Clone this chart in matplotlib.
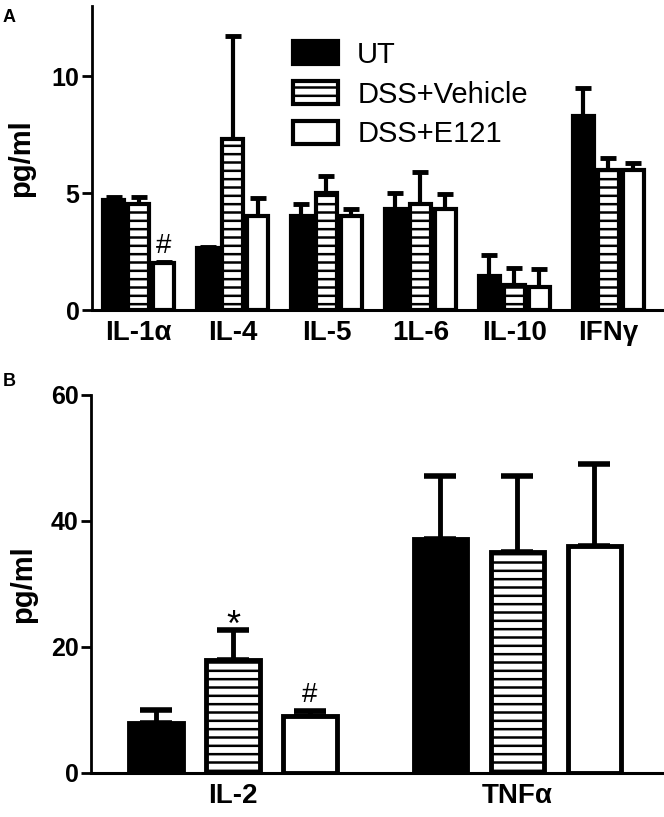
import numpy as np
import matplotlib
matplotlib.use('Agg')
from matplotlib import pyplot as plt

plt.rcParams['font.family'] = ['Liberation Sans', 'DejaVu Sans']
plt.rcParams['hatch.linewidth'] = 1.8
plt.rcParams['hatch.color'] = 'black'

groups = ['UT', 'DSS+Vehicle', 'DSS+E121']
hatches = ['', '--', '']
faces = ['black', 'white', 'white']

# panel A
cyto_a = ['IL-1\u03b1', 'IL-4', 'IL-5', '1L-6', 'IL-10', 'IFN\u03b3']
ut_a = [4.7, 2.65, 4.0, 4.3, 1.45, 8.3]
ut_a_err = [0.15, 0.05, 0.55, 0.7, 0.9, 1.2]
veh_a = [4.55, 7.3, 5.0, 4.55, 1.05, 6.0]
veh_a_err = [0.3, 4.4, 0.75, 1.35, 0.75, 0.5]
e121_a = [2.0, 4.0, 4.0, 4.3, 1.0, 6.0]
e121_a_err = [0.05, 0.8, 0.3, 0.65, 0.75, 0.3]

# panel B
cyto_b = ['IL-2', 'TNF\u03b1']
ut_b = [8.0, 37.2]
ut_b_err = [2.0, 9.9]
veh_b = [18.0, 35.1]
veh_b_err = [4.7, 12.0]
e121_b = [9.0, 36.1]
e121_b_err = [0.9, 13.0]

fig = plt.figure(figsize=(6.64, 8.17), dpi=100)
axA = fig.add_axes([92/664, 1-310/817, 570/664, 304/817])
axB = fig.add_axes([91/664, 1-773/817, 571/664, 378/817])


def draw(ax, cats, vals, errs, offset, width, capsize, lw):
    x = np.arange(len(cats))
    for i, (v, e) in enumerate(zip(vals, errs)):
        xi = x + (i - 1) * offset
        ax.errorbar(xi, v, yerr=[np.zeros(len(v)), e], fmt='none', ecolor='black',
                    elinewidth=lw, capsize=capsize, capthick=lw + 0.5, zorder=1)
        ax.bar(xi, v, width, color=faces[i], edgecolor='black', hatch=hatches[i],
               linewidth=lw, label=groups[i], zorder=2)
    ax.set_xticks(x)
    ax.set_xticklabels(cats, fontsize=20, fontweight='bold')
    ax.tick_params(axis='x', length=0, pad=7)
    ax.tick_params(axis='y', length=7, width=2, labelsize=18, pad=2)
    for lab in ax.get_yticklabels():
        lab.set_fontweight('bold')
    ax.spines['top'].set_visible(False)
    ax.spines['right'].set_visible(False)
    ax.spines['left'].set_linewidth(2)
    ax.spines['bottom'].set_linewidth(2.2)
    ax.set_ylabel('pg/ml', fontsize=21, fontweight='bold')


draw(axA, cyto_a, [ut_a, veh_a, e121_a], [ut_a_err, veh_a_err, e121_a_err], 0.266, 0.223, 6, 3)
axA.set_xlim(-0.495, 5.57)
axA.set_ylim(0, 13)
axA.set_yticks([0, 5, 10])
axA.yaxis.set_label_coords(-0.1, 0.5)
axA.text(0.266, 2.45, '#', ha='center', va='baseline', fontsize=20)
axA.legend(loc='upper left', bbox_to_anchor=(293/664, 1-41/817), bbox_transform=fig.transFigure,
           frameon=False, fontsize=21, borderpad=0, borderaxespad=0,
           handlelength=1.55, handleheight=0.83, handletextpad=0.65, labelspacing=0.4)

draw(axB, cyto_b, [ut_b, veh_b, e121_b], [ut_b_err, veh_b_err, e121_b_err], 0.271, 0.187, 11.5, 3.5)
axB.set_xlim(-0.5, 1.51)
axB.set_ylim(0, 60)
axB.set_yticks([0, 20, 40, 60])
axB.yaxis.set_label_coords(-0.095, 0.5)
axB.text(0, 21.8, '*', ha='center', va='baseline', fontsize=26)
axB.text(0.271, 11.2, '#', ha='center', va='baseline', fontsize=20)

fig.text(9/664, 1-18/817, 'A', fontsize=13, fontweight='bold', ha='center', va='center')
fig.text(9/664, 1-381/817, 'B', fontsize=13, fontweight='bold', ha='center', va='center')

plt.savefig('out.png', dpi=100)
